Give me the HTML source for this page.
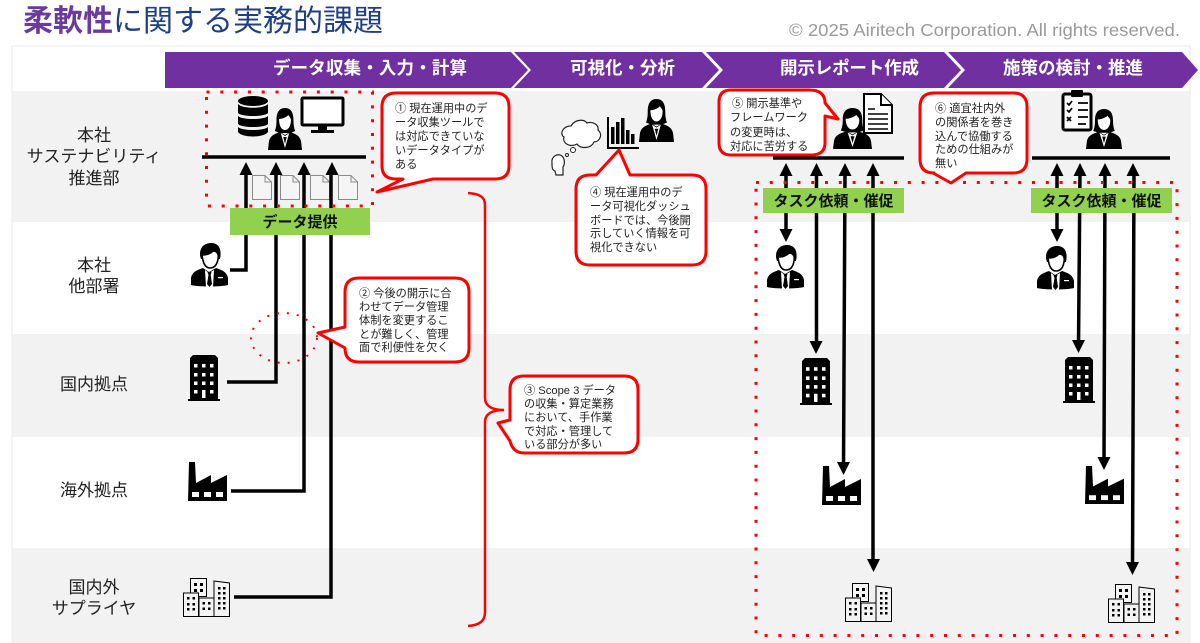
<!DOCTYPE html>
<html lang="ja"><head><meta charset="utf-8"><title>柔軟性に関する実務的課題</title>
<style>
html,body{margin:0;padding:0;background:#fff;width:1200px;height:643px;overflow:hidden}
svg{display:block;filter:blur(.35px)}
text{font-family:"Liberation Sans","Noto Sans CJK JP",sans-serif}
.c{font-size:11.2px;fill:#222}
.l{font-size:17px;fill:#222;text-anchor:middle}
.h{font-size:17.5px;font-weight:700;fill:#fff;}
.g{font-size:15px;font-weight:700;fill:#111;text-anchor:middle}
.cb{fill:#fff;stroke:#f00;stroke-width:3;stroke-linejoin:round}
.ln{stroke:#000;stroke-width:3.5;fill:none}
.dr{fill:none;stroke:#f00;stroke-width:3;stroke-dasharray:3 10.8}
</style></head><body>
<svg xmlns="http://www.w3.org/2000/svg" width="1200" height="643" viewBox="0 0 1200 643">
<defs>
<polygon id="up" points="0,0 6.5,13 -6.5,13" fill="#000"/>
<polygon id="dn" points="0,0 6.5,-13 -6.5,-13" fill="#000"/>
<symbol id="woman" viewBox="0 0 40 42" preserveAspectRatio="none">
<path d="M20 0C12 0 10 6 10 12C10 18 9 21 8 23L14 25L26 25L32 23C31 21 30 18 30 12C30 6 28 0 20 0Z" fill="#000"/>
<path d="M13 11C17 11 22 9 24 7C25 9 27 10 27 12C27 18 24 22 20 22C16 22 13 18 13 11Z" fill="#fff"/>
<path d="M14 24L20 27L26 24C33 26 38 28 39 34L40 42L0 42L1 34C2 28 7 26 14 24Z" fill="#000"/>
<path d="M15 25L20 40L25 25L20 28Z" fill="#fff"/>
<path d="M18 29L22 29L20 36Z" fill="#000"/>
</symbol>
<symbol id="man" viewBox="0 0 37 44" preserveAspectRatio="none">
<path d="M10 16C7 8 11 0 20 0C28 0 31 6 29 16L27 16C28 11 26 8 22 8C19 11 15 12 12 11C11 13 11 14 11 16Z" fill="#000"/>
<path d="M11 12C15 12 19 11 22 8C26 8 28 11 27 16C26 22 23 25 19 25C15 25 12 21 11 12Z" fill="#fff" stroke="#000" stroke-width="1.6"/>
<path d="M12 25L18 29L25 25C31 27 36 29 37 35L37 42C30 44 7 44 0 42L0 35C1 29 6 27 12 25Z" fill="#000"/>
<path d="M14 27L18 30L23 27L22 44L15 44Z" fill="#fff"/>
<path d="M16.5 29L20.5 29L19.7 32L21 41L18.5 44L16 41L17.5 32Z" fill="#000"/>
<rect x="27" y="34" width="5" height="1.2" fill="#fff"/>
</symbol>
<symbol id="bld" viewBox="0 0 32 46" preserveAspectRatio="none">
<path d="M2 44L2 3L5 0L27 0L30 3L30 44L32 44L32 46L0 46L0 44Z" fill="#000"/>
<g fill="#fff"><rect x="6" y="9" width="3.5" height="3.5"/><rect x="14" y="9" width="3.5" height="3.5"/><rect x="22" y="9" width="3.5" height="3.5"/><rect x="6" y="18" width="3.5" height="3.5"/><rect x="14" y="18" width="3.5" height="3.5"/><rect x="22" y="18" width="3.5" height="3.5"/><rect x="6" y="26.500" width="3.5" height="3.5"/><rect x="14" y="26.500" width="3.5" height="3.500"/><rect x="22" y="26.500" width="3.500" height="3.500"/><rect x="6" y="35" width="3.500" height="3.500"/><rect x="22" y="35" width="3.500" height="3.500"/><rect x="14" y="35" width="3.500" height="8"/></g>
</symbol>
<symbol id="fac" viewBox="0 0 39 39" preserveAspectRatio="none">
<path d="M0 39L1 0L7 0L8 21L23 13L23 21L39 13L39 39Z" fill="#000"/>
<g fill="#fff"><rect x="4" y="30" width="7" height="5"/><rect x="16" y="30" width="7" height="5"/><rect x="28" y="30" width="7" height="5"/></g>
</symbol>
<symbol id="city" viewBox="0 0 47 39" preserveAspectRatio="none">
<g fill="#f4f4f4" stroke="#000" stroke-width="1"><rect x="7.500" y=".5" width="16" height="18"/><path d="M31 3L46.500 5L46.500 38.500L31 38.500Z"/><rect x=".5" y="15" width="15" height="23.500"/><rect x="16" y="20" width="15" height="18.500"/></g>
<g fill="#000"><rect x="11" y="5" width="3" height="3"/><rect x="17" y="5" width="3" height="3"/><rect x="11" y="11" width="3" height="3"/><rect x="17" y="11" width="3" height="3"/><rect x="4" y="19" width="2.500" height="2.500"/><rect x="9.500" y="19" width="2.500" height="2.500"/><rect x="4" y="25" width="2.500" height="2.500"/><rect x="9.500" y="25" width="2.500" height="2.500"/><rect x="4" y="30" width="2.500" height="2.500"/><rect x="9.500" y="30" width="2.500" height="2.500"/><rect x="19.500" y="24" width="2.500" height="2.500"/><rect x="25" y="24" width="2.500" height="2.500"/><rect x="19.500" y="29.500" width="2.500" height="2.500"/><rect x="25" y="29.500" width="2.500" height="2.500"/><rect x="35" y="9" width="2.500" height="2.500"/><rect x="40" y="9" width="2.500" height="2.500"/><rect x="35" y="14" width="2.500" height="2.500"/><rect x="40" y="14" width="2.500" height="2.500"/><rect x="35" y="19" width="2.500" height="2.500"/><rect x="40" y="19" width="2.500" height="2.500"/><rect x="35" y="24" width="2.500" height="2.500"/><rect x="40" y="24" width="2.500" height="2.500"/><rect x="35" y="29" width="2.500" height="2.500"/><rect x="40" y="29" width="2.500" height="2.500"/></g>
</symbol>
<symbol id="doc" viewBox="0 0 20 25" preserveAspectRatio="none">
<path d="M.5 .5L13 .5L19.500 7L19.500 24.500L.5 24.500Z M13 .5L13 7L19.500 7" fill="#f5f5f5" stroke="#8a8a8a" stroke-width="1"/>
</symbol>
</defs>

<rect width="1200" height="643" fill="#fff"/>
<rect x="12" y="91" width="1178" height="131" fill="#f2f2f2"/>
<rect x="12" y="334" width="1178" height="103" fill="#f2f2f2"/>
<rect x="12" y="548" width="1178" height="95" fill="#f2f2f2"/>
<path d="M12 46H1190V643M12 46V643" fill="none" stroke="#f0f0f0" stroke-width="1.500"/>

<!-- title -->
<text x="23" y="31" font-size="30" fill="#1f3f85"><tspan font-weight="700" fill="#6b3a9e">柔軟性</tspan><tspan>に関する実務的課題</tspan></text>
<text x="789" y="36" font-size="17.500" fill="#9a9a9a" textLength="391" lengthAdjust="spacingAndGlyphs">© 2025 Airitech Corporation. All rights reserved.</text>

<!-- chevrons -->
<g fill="#7030a0">
<polygon points="165,52 511,52 528,70 511,88 165,88"/>
<polygon points="514,52 702,52 719,70 702,88 514,88 531,70"/>
<polygon points="706,52 944,52 961,70 944,88 706,88 723,70"/>
<polygon points="948,52 1182,52 1198,70 1182,88 948,88 965,70"/>
</g>
<g class="h">
<text class="h" x="273" y="74" textLength="194">データ収集・入力・計算</text>
<text class="h" x="570" y="74" textLength="105">可視化・分析</text>
<text class="h" x="780" y="74" textLength="139">開示レポート作成</text>
<text class="h" x="1003" y="74" textLength="140">施策の検討・推進</text>
</g>

<!-- row labels -->
<text class="l" x="94" y="141">本社</text>
<text class="l" x="94" y="162">サステナビリティ</text>
<text class="l" x="94" y="184">推進部</text>
<text class="l" x="94" y="271">本社</text>
<text class="l" x="94" y="292">他部署</text>
<text class="l" x="94" y="390">国内拠点</text>
<text class="l" x="94" y="496">海外拠点</text>
<text class="l" x="94" y="593">国内外</text>
<text class="l" x="94" y="614">サプライヤ</text>

<!-- left group -->
<g fill="#000">
<ellipse cx="253" cy="101" rx="15" ry="5"/>
<path d="M238 104C242 109 264 109 268 104V113C264 117 242 117 238 113Z"/>
<path d="M238 116C242 120 264 120 268 116V124C264 128 242 128 238 124Z"/>
<path d="M238 127C242 131 264 131 268 127V132C264 138 242 138 238 132Z"/>
</g>
<rect x="302" y="98" width="41" height="27" fill="#fff" stroke="#000" stroke-width="3" rx="1"/>
<path d="M318 126H327V130H334V133H311V130H318Z" fill="#000"/>
<use href="#woman" x="268" y="108" width="34" height="42"/>
<path d="M202 157H366" stroke="#000" stroke-width="3.500"/>
<use href="#doc" x="252" y="175" width="20" height="25"/>
<use href="#doc" x="280" y="175" width="20" height="25"/>
<use href="#doc" x="310" y="175" width="20" height="25"/>
<use href="#doc" x="338" y="175" width="20" height="25"/>
<path class="ln" d="M246 172V270H230"/>
<path class="ln" d="M276 172V382H227"/>
<path class="ln" d="M304 172V491H231"/>
<path class="ln" d="M331 172V597H234"/>
<use href="#up" x="246" y="162"/><use href="#up" x="276" y="162"/><use href="#up" x="304" y="162"/><use href="#up" x="332" y="162"/>
<rect x="206.500" y="92" width="166" height="114" class="dr"/>
<rect x="230" y="208" width="140" height="27" fill="#92d050"/>
<text class="g" x="300" y="227">データ提供</text>
<use href="#man" x="191" y="243" width="37" height="44"/>
<use href="#bld" x="188" y="355" width="32" height="46"/>
<use href="#fac" x="188" y="462" width="39" height="39"/>
<use href="#city" x="183" y="578" width="47" height="39"/>
<ellipse cx="284" cy="338" rx="33" ry="25" fill="none" stroke="#f00" stroke-width="2" stroke-dasharray="2 8"/>

<!-- brace -->
<path d="M468 193C480 194 485 197 485 205V398C485 406 492 410 504 410C492 410 485 414 485 422V612C485 621 480 625 468 626" fill="none" stroke="#f00" stroke-width="2.500"/>

<!-- middle group -->
<path d="M571 126C575 119 584 119 587 123C593 121 599 125 598 130C603 134 600 142 594 142C591 149 580 149 577 144C570 148 562 143 564 137C559 134 563 126 571 126Z" fill="#fff" stroke="#222" stroke-width="1.200"/>
<circle cx="573" cy="150" r="2.500" fill="#fff" stroke="#222" stroke-width="1"/><circle cx="567" cy="155" r="1.500" fill="#fff" stroke="#222"/>
<path d="M552 163C551 156 558 153 562 156C565 159 565 164 563 167V175H556L555 171C552 170 552 167 552 163Z" fill="#fff" stroke="#222" stroke-width="1.200"/>
<path d="M608 117V148H639" fill="none" stroke="#000" stroke-width="2"/>
<g fill="#000"><rect x="611" y="127" width="3.500" height="17"/><rect x="616" y="122" width="3.500" height="22"/><rect x="621" y="118" width="3.500" height="26"/><rect x="626" y="130" width="3.500" height="14"/><rect x="631" y="134" width="3.500" height="10"/></g>
<use href="#woman" x="639" y="99" width="35" height="43"/>

<!-- right groups -->
<use href="#woman" x="833" y="108" width="39" height="41"/>
<path d="M864 94H881L892 105V133H864Z" fill="#fff" stroke="#000" stroke-width="2"/>
<path d="M881 94V105H892" fill="#fff" stroke="#000" stroke-width="2"/>
<path d="M868 109H875M868 114H888M868 119H888M868 124H888M868 129H888" stroke="#000" stroke-width="1.500"/>
<rect x="1063" y="94" width="28" height="36" fill="#fff" stroke="#000" stroke-width="3" rx="2"/>
<rect x="1071" y="90" width="12" height="7" fill="#000" rx="1"/>
<path d="M1078 103H1088M1078 110H1088M1078 117H1088M1078 124H1086M1067 103l2 2 3-4M1067 110l2 2 3-4M1067 117l4 4m0-4l-4 4" stroke="#000" stroke-width="1.700" fill="none"/>
<use href="#woman" x="1086" y="109" width="36" height="40"/>
<path d="M773 158H904M1032 158H1170" stroke="#000" stroke-width="3.500"/>

<path class="ln" d="M786 170V235M816.500 170V347M845 170L843.500 468M873 170V564M1057 170V235M1080 170L1078.500 346M1105 170L1104 463M1134 170L1132.500 568"/>
<use href="#up" x="786" y="163"/><use href="#up" x="816.500" y="163"/><use href="#up" x="845" y="163"/><use href="#up" x="873" y="163"/>
<use href="#up" x="1057" y="163"/><use href="#up" x="1080" y="163"/><use href="#up" x="1105" y="163"/><use href="#up" x="1133" y="163"/>
<use href="#dn" x="786" y="242"/><use href="#dn" x="816" y="354"/><use href="#dn" x="843.500" y="475"/><use href="#dn" x="873.500" y="572"/>
<use href="#dn" x="1057" y="242"/><use href="#dn" x="1078.500" y="353"/><use href="#dn" x="1104" y="470"/><use href="#dn" x="1132.500" y="575"/>

<rect x="763" y="188" width="141" height="25" fill="#92d050"/>
<rect x="1031" y="188" width="141" height="25" fill="#92d050"/>
<text class="g" x="833.500" y="206" font-size="15.500">タスク依頼・催促</text>
<text class="g" x="1101.500" y="206" font-size="15.500">タスク依頼・催促</text>

<use href="#man" x="767" y="245" width="37" height="44"/>
<use href="#man" x="1037" y="246" width="37" height="44"/>
<use href="#bld" x="800" y="358" width="32" height="47"/>
<use href="#bld" x="1063" y="357" width="32" height="46"/>
<use href="#fac" x="822" y="466" width="39" height="39"/>
<use href="#fac" x="1085" y="466" width="39" height="38"/>
<use href="#city" x="845" y="583" width="47" height="39"/>
<use href="#city" x="1108" y="584" width="47" height="39"/>

<rect x="756" y="182.500" width="421" height="453" class="dr"/>

<!-- callouts -->
<path class="cb" d="M396 93H495Q509 93 509 107V166Q509 179 495 179H433L377 192L403 179H396Q382 179 382 166V107Q382 93 396 93Z"/>
<g class="c"><text class="c" x="395" y="112">① 現在運用中のデ</text><text class="c" x="395" y="126">ータ収集ツールで</text><text class="c" x="395" y="140">は対応できていな</text><text class="c" x="395" y="154">いデータタイプが</text><text class="c" x="395" y="168">ある</text></g>

<path class="cb" d="M359 278H455Q469 278 469 292V348Q469 362 455 362H359Q345 362 345 348L318 333L345 327V292Q345 278 359 278Z"/>
<g><text class="c" x="359" y="297">② 今後の開示に合</text><text class="c" x="359" y="310.500">わせてデータ管理</text><text class="c" x="359" y="324">体制を変更するこ</text><text class="c" x="359" y="338">とが難しく、管理</text><text class="c" x="359" y="351">面で利便性を欠く</text></g>

<path class="cb" d="M524 376H624Q638 376 638 390V439Q638 453 624 453H524Q513 453 510 441L498 423L510 420V390Q510 376 524 376Z"/>
<g><text class="c" x="524" y="394">③ Scope 3 データ</text><text class="c" x="524" y="407.500">の収集・算定業務</text><text class="c" x="524" y="421">において、手作業</text><text class="c" x="524" y="435">で対応・管理して</text><text class="c" x="524" y="448">いる部分が多い</text></g>

<path class="cb" d="M590 175H596L619 150L630 175H692Q706 175 706 189V251Q706 265 692 265H590Q576 265 576 251V189Q576 175 590 175Z"/>
<g><text class="c" x="590" y="196">④ 現在運用中のデ</text><text class="c" x="590" y="210">ータ可視化ダッシュ</text><text class="c" x="590" y="224">ボードでは、今後開</text><text class="c" x="590" y="237">示していく情報を可</text><text class="c" x="590" y="251">視化できない</text></g>

<path class="cb" d="M731 90H809Q825 90 825 103L838 119L825 116V143Q825 155 811 155H731Q719 155 719 143V102Q719 90 731 90Z"/>
<g><text class="c" x="732" y="107">⑤ 開示基準や</text><text class="c" x="730" y="121">フレームワーク</text><text class="c" x="730" y="136">の変更時は、</text><text class="c" x="730" y="150">対応に苦労する</text></g>

<path class="cb" d="M934 93H1013Q1027 93 1027 107V159Q1027 173 1013 173H966L951 183L933 173H934Q920 173 920 159V107Q920 93 934 93Z"/>
<g><text class="c" x="935" y="112">⑥ 適宜社内外</text><text class="c" x="935" y="126">の関係者を巻き</text><text class="c" x="935" y="140">込んで協働する</text><text class="c" x="935" y="153">ための仕組みが</text><text class="c" x="935" y="167">無い</text></g>
</svg>
</body></html>
